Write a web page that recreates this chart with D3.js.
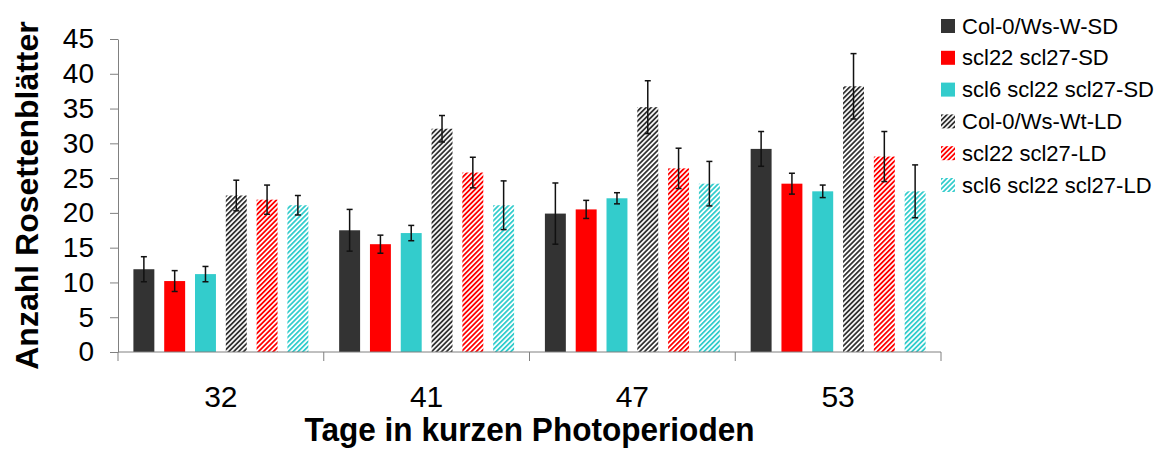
<!DOCTYPE html>
<html>
<head>
<meta charset="utf-8">
<script src="https://cdn.jsdelivr.net/npm/d3@7"></script>
<style>
  body { margin: 0; background: #fff; }
  svg { display: block; font-family: Arial, "Liberation Sans", sans-serif; }
</style>
</head>
<body>
<svg id="chart" width="1167" height="450"></svg>
<script>
const categories = ['32', '41', '47', '53'];
const seriesNames = [
  'Col-0/Ws-W-SD', 'scl22 scl27-SD', 'scl6 scl22 scl27-SD',
  'Col-0/Ws-Wt-LD', 'scl22 scl27-LD', 'scl6 scl22 scl27-LD'
];
const colWsSD    = [11.9, 17.5, 19.9, 29.2];
const scl2227SD  = [10.2, 15.5, 20.5, 24.2];
const scl62227SD = [11.2, 17.1, 22.1, 23.1];
const colWsLD    = [22.5, 32.1, 35.2, 38.2];
const scl2227LD  = [21.9, 25.8, 26.4, 28.1];
const scl62227LD = [21.1, 21.1, 24.2, 23.1];

const errColWsSD    = [1.8, 3.0, 4.4, 2.5];
const errScl2227SD  = [1.5, 1.3, 1.3, 1.5];
const errScl62227SD = [1.1, 1.1, 0.8, 0.9];
const errColWsLD    = [2.2, 1.9, 3.8, 4.7];
const errScl2227LD  = [2.1, 2.2, 2.9, 3.6];
const errScl62227LD = [1.4, 3.5, 3.2, 3.8];

const yTicks = [0, 5, 10, 15, 20, 25, 30, 35, 40, 45];

const values = [colWsSD, scl2227SD, scl62227SD, colWsLD, scl2227LD, scl62227LD];
const errors = [errColWsSD, errScl2227SD, errScl62227SD, errColWsLD, errScl2227LD, errScl62227LD];
const colors = ['#333333', '#ff0000', '#33cccc', '#333333', '#ff0000', '#33cccc'];
const hatched = [false, false, false, true, true, true];

const svg = d3.select('#chart');
const plotL = 118, plotR = 941, plotT = 39, plotB = 352;

const x0 = d3.scaleBand().domain(categories).range([plotL, plotR]).padding(0);
const x1 = d3.scaleBand().domain(seriesNames).range([0, x0.bandwidth()])
  .paddingInner(0.32).paddingOuter(0.5);
const y = d3.scaleLinear().domain([0, 45]).range([plotB, plotT]);

// hatch patterns
const defs = svg.append('defs');
seriesNames.forEach((s, i) => {
  if (!hatched[i]) return;
  const p = defs.append('pattern')
    .attr('id', 'hatch' + i)
    .attr('patternUnits', 'userSpaceOnUse')
    .attr('width', 3.5).attr('height', 4)
    .attr('patternTransform', 'rotate(45)');
  p.append('rect').attr('width', 3.5).attr('height', 4).attr('fill', '#fff');
  p.append('rect').attr('width', 1.8).attr('height', 4).attr('fill', colors[i]);
});
const fillOf = i => hatched[i] ? `url(#hatch${i})` : colors[i];

// bars
const rows = [];
seriesNames.forEach((s, i) => {
  categories.forEach((c, j) => rows.push({ s, i, c, v: values[i][j], e: errors[i][j] }));
});

svg.append('g').selectAll('rect')
  .data(rows)
  .join('rect')
  .attr('x', d => x0(d.c) + x1(d.s))
  .attr('y', d => y(d.v))
  .attr('width', x1.bandwidth())
  .attr('height', d => y(0) - y(d.v))
  .attr('fill', d => fillOf(d.i));

// error bars
const eb = svg.append('g').attr('stroke', '#111').attr('stroke-width', 1.5);
rows.forEach(d => {
  const cx = x0(d.c) + x1(d.s) + x1.bandwidth() / 2;
  eb.append('line').attr('x1', cx).attr('x2', cx).attr('y1', y(d.v + d.e)).attr('y2', y(d.v - d.e));
  eb.append('line').attr('x1', cx - 3).attr('x2', cx + 3).attr('y1', y(d.v + d.e)).attr('y2', y(d.v + d.e));
  eb.append('line').attr('x1', cx - 3).attr('x2', cx + 3).attr('y1', y(d.v - d.e)).attr('y2', y(d.v - d.e));
});

// y axis
const yAxis = svg.append('g')
  .attr('transform', `translate(${plotL},0)`)
  .call(d3.axisLeft(y).tickValues(yTicks).tickSize(8).tickSizeOuter(0).tickPadding(16));
yAxis.select('.domain').attr('stroke', '#808080');
yAxis.selectAll('.tick line').attr('stroke', '#808080');
yAxis.selectAll('.tick text')
  .attr('font-size', 28).attr('fill', '#000')
  .attr('font-family', 'Arial, "Liberation Sans", sans-serif');

// x axis
const xg = svg.append('g').attr('stroke', '#808080');
xg.append('line').attr('x1', plotL).attr('x2', plotR).attr('y1', plotB).attr('y2', plotB);
[...categories.map(c => x0(c)), plotR].forEach(px => {
  xg.append('line').attr('x1', px).attr('x2', px).attr('y1', plotB).attr('y2', plotB + 9);
});
svg.append('g').selectAll('text')
  .data(categories)
  .join('text')
  .attr('x', c => x0(c) + x0.bandwidth() / 2)
  .attr('y', 407)
  .attr('text-anchor', 'middle')
  .attr('font-size', 30)
  .text(c => c);

// axis titles
svg.append('text')
  .attr('x', (plotL + plotR) / 2)
  .attr('y', 441)
  .attr('text-anchor', 'middle')
  .attr('font-size', 34)
  .attr('font-weight', 'bold')
  .attr('textLength', 450)
  .attr('lengthAdjust', 'spacingAndGlyphs')
  .text('Tage in kurzen Photoperioden');

svg.append('text')
  .attr('transform', `translate(38,${(plotT + plotB) / 2}) rotate(-90)`)
  .attr('text-anchor', 'middle')
  .attr('font-size', 32)
  .attr('font-weight', 'bold')
  .text('Anzahl Rosettenblätter');

// legend
const lg = svg.append('g').attr('transform', 'translate(941,19)');
seriesNames.forEach((s, i) => {
  const row = lg.append('g').attr('transform', `translate(0,${i * 31.8})`);
  row.append('rect').attr('width', 14).attr('height', 14).attr('fill', fillOf(i));
  row.append('text').attr('x', 21).attr('y', 14.5).attr('font-size', 22).text(s);
});
</script>
</body>
</html>
